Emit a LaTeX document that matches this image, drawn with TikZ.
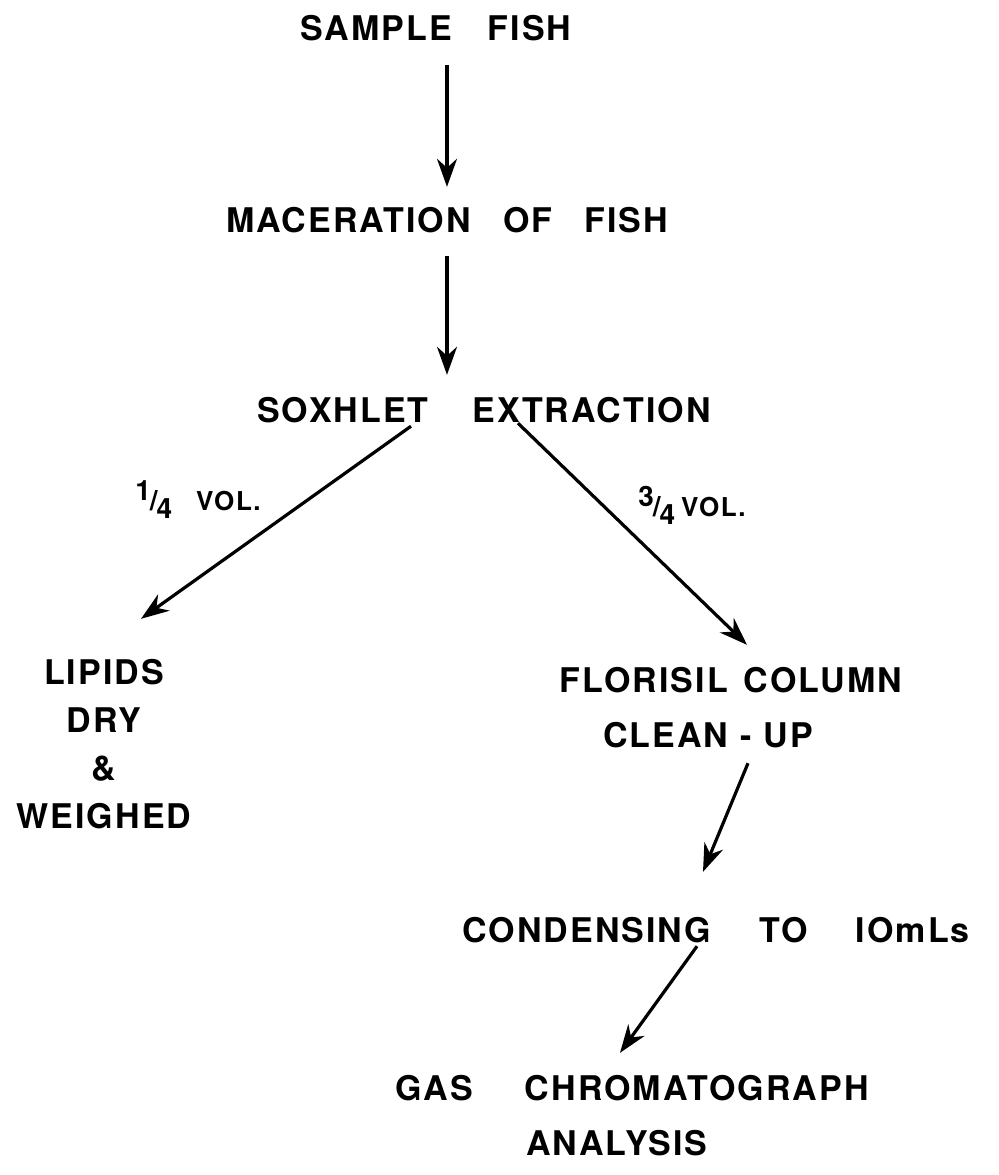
\documentclass[tikz,border=0pt]{standalone}
\usepackage{fontspec}
\setmainfont{TeX Gyre Heros}[LetterSpace=6]
\usetikzlibrary{arrows.meta}
\newcommand{\fracq}[2]{\raisebox{5pt}{\fontsize{14}{15}\selectfont #1}\kern-0.5pt{\fontsize{14}{15}\selectfont/}\kern-0.5pt\raisebox{-4pt}{\fontsize{14}{15}\selectfont #2}}
\begin{document}
\begin{tikzpicture}[x=0.5pt,y=-0.5pt,
  lbl/.style={inner sep=0pt, font=\fontsize{17}{24}\selectfont\bfseries},
  small/.style={inner sep=0pt, font=\fontsize{13}{15}\selectfont\bfseries},
  arr/.style={line width=1.6pt, -{Stealth[length=14pt,width=10pt,inset=4.5pt]}}]
\useasboundingbox (0,0) rectangle (999,1175);
\node[lbl] (sample) at (436,28) {SAMPLE\hspace{18pt}FISH};
\node[lbl] (mac) at (447,220) {MACERATION\hspace{16pt}OF\hspace{16pt}FISH};
\node[lbl] (sox) at (484,410) {SOXHLET\hspace{22pt}EXTRACTION};
\node[lbl, align=center] (lip) at (104,744) {LIPIDS\\DRY\\\&\\WEIGHED};
\node[lbl] (flor) at (731,680) {FLORISIL\hspace{8pt}COLUMN};
\node[lbl] (clean) at (708,735) {CLEAN\hspace{6pt}-\hspace{6pt}UP};
\node[lbl] (cond) at (716,930) {CONDENSING\hspace{24pt}TO\hspace{24pt}IOmLs};
\node[lbl] (gas) at (632,1088) {GAS\hspace{26pt}CHROMATOGRAPH};
\node[lbl] (ana) at (617,1143) {ANALYSIS};
\node[small] (qa) at (198,500) {\fracq{1}{4}\hspace{12pt}VOL.};
\node[small] (qb) at (692,505) {\fracq{3}{4}\hspace{3pt}VOL.};
\draw[arr] ([shift={(11,24)}]sample.south) -- ([shift={(0,-20)}]mac.north);
\draw[arr] ([shift={(0,23)}]mac.south) -- ([shift={(-37,-22)}]sox.north);
\draw[arr] ([shift={(-73,3)}]sox.south) -- ([shift={(37,-40)}]lip.north);
\draw[arr] ([shift={(34,0)}]sox.south) -- ([shift={(16,-22)}]flor.north);
\draw[arr] ([shift={(40,15)}]clean.south) -- ([shift={(-13,-45)}]cond.north);
\draw[arr] ([shift={(-19,3)}]cond.south) -- ([shift={(-12,-22)}]gas.north);
\end{tikzpicture}
\end{document}
